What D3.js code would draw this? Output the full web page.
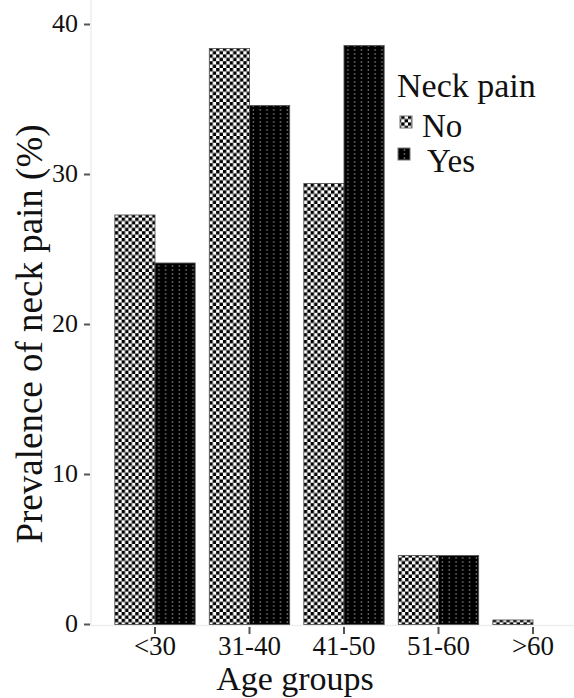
<!DOCTYPE html>
<html><head><meta charset="utf-8">
<script src="https://cdn.jsdelivr.net/npm/d3@7"></script>
<style>body{margin:0;background:#fff}svg{display:block}</style>
</head><body>
<svg id="c" width="574" height="698"></svg>
<script>
const categories = ["<30","31-40","41-50","51-60",">60"];
const groups = ["No","Yes"];
const noValues = [27.3, 38.4, 29.4, 4.6, 0.3];
const yesValues = [24.1, 34.6, 38.6, 4.6, 0];
const yTicks = [0,10,20,30,40];

const svg = d3.select("#c");
const font = "'Liberation Serif','Times New Roman',serif";
const defs = svg.append("defs");
// checkerboard pattern
const p1 = defs.append("pattern").attr("id","chk").attr("patternUnits","userSpaceOnUse")
  .attr("width",6.8).attr("height",6.8);
p1.append("rect").attr("width",6.8).attr("height",6.8).attr("fill","#fff");
p1.append("rect").attr("width",3.4).attr("height",3.4).attr("fill","#000");
p1.append("rect").attr("x",3.4).attr("y",3.4).attr("width",3.4).attr("height",3.4).attr("fill","#000");
// dotted black pattern
const p2 = defs.append("pattern").attr("id","dot").attr("patternUnits","userSpaceOnUse")
  .attr("width",6.8).attr("height",4);
p2.append("rect").attr("width",6.8).attr("height",4).attr("fill","#000");
p2.append("rect").attr("x",2.6).attr("y",1.3).attr("width",1.4).attr("height",1.4).attr("fill","#8a8a8a");

const y = d3.scaleLinear().domain([0,40]).range([624.5,24.5]);
const x = d3.scaleBand().domain(categories).range([107.75,580.25]).paddingInner(0.15).paddingOuter(0.075);
const xs = d3.scaleBand().domain(groups).range([0,x.bandwidth()]);

// axis lines
svg.append("line").attr("x1",91).attr("x2",91).attr("y1",0).attr("y2",626).attr("stroke","#eeeeee").attr("stroke-width",1.5);
svg.append("line").attr("x1",91).attr("x2",574).attr("y1",625.5).attr("y2",625.5).attr("stroke","#eeeeee").attr("stroke-width",1.5);

const data = categories.map((c,i)=>({c, vals:[{g:"No",v:noValues[i]},{g:"Yes",v:yesValues[i]}]}));
const gs = svg.append("g").selectAll("g").data(data).join("g").attr("transform",d=>`translate(${x(d.c)},0)`);
gs.selectAll("rect").data(d=>d.vals.filter(e=>e.v>0)).join("rect")
  .attr("x",d=>xs(d.g)).attr("width",xs.bandwidth())
  .attr("y",d=>y(d.v)).attr("height",d=>y(0)-y(d.v))
  .attr("fill",d=>d.g==="No"?"url(#chk)":"url(#dot)")
  .attr("stroke","#555").attr("stroke-width",0.9);

// y ticks
const yg = svg.append("g");
yTicks.forEach(t=>{
  yg.append("line").attr("x1",84).attr("x2",90).attr("y1",y(t)).attr("y2",y(t)).attr("stroke","#555").attr("stroke-width",2);
  yg.append("text").attr("x",78).attr("y",y(t)).attr("dy","0.3em").attr("text-anchor","end")
    .attr("font-family",font).attr("font-size",26).attr("fill","#111").text(t);
});
// x ticks
categories.forEach(c=>{
  const cx = x(c)+x.bandwidth()/2;
  svg.append("line").attr("x1",cx).attr("x2",cx).attr("y1",627).attr("y2",634).attr("stroke","#555").attr("stroke-width",2);
  svg.append("text").attr("x",cx).attr("y",655).attr("text-anchor","middle")
    .attr("font-family",font).attr("font-size",27).attr("fill","#111").text(c);
});
// axis titles
svg.append("text").attr("x",295).attr("y",690).attr("text-anchor","middle")
  .attr("font-family",font).attr("font-size",34).attr("fill","#111").text("Age groups");
svg.append("text").attr("transform","translate(42,334) rotate(-90)").attr("text-anchor","middle")
  .attr("font-family",font).attr("font-size",37).attr("fill","#111").text("Prevalence of neck pain (%)");

// legend
svg.append("text").attr("x",397).attr("y",97).attr("font-family",font).attr("font-size",34).attr("fill","#111").text("Neck pain");
const leg = [{g:"No",ix:400,iy:116,tx:422,ty:137},{g:"Yes",ix:398,iy:148,tx:427,ty:172}];
leg.forEach(l=>{
  svg.append("rect").attr("x",l.ix).attr("y",l.iy).attr("width",12).attr("height",12)
    .attr("fill",l.g==="No"?"url(#chk)":"url(#dot)").attr("stroke","#777").attr("stroke-width",1);
  svg.append("text").attr("x",l.tx).attr("y",l.ty).attr("font-family",font).attr("font-size",33).attr("fill","#111").text(l.g);
});
</script>
</body></html>
